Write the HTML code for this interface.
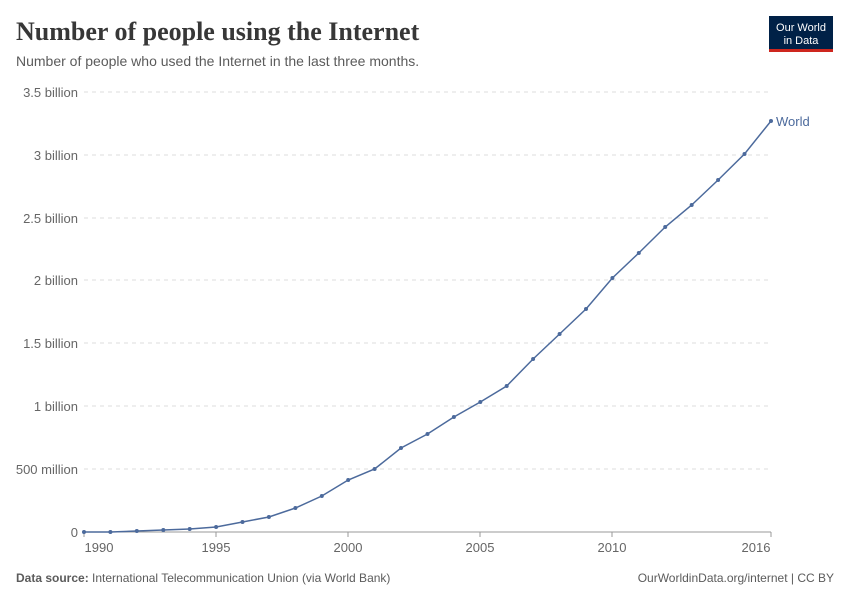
<!DOCTYPE html><html><head><style>
body{margin:0;width:850px;height:600px;background:#fff;font-family:"Liberation Sans",sans-serif;overflow:hidden}
</style></head><body>
<svg width="850" height="600" xmlns="http://www.w3.org/2000/svg" font-family="Liberation Sans, sans-serif">
<text x="16" y="40" font-family="Liberation Serif, serif" font-size="26" font-weight="bold" fill="#373737">Number of people using the Internet</text>
<text x="16" y="66" font-size="14" fill="#5b5b5b">Number of people who used the Internet in the last three months.</text>
<rect x="769" y="16" width="64" height="33" fill="#002147"/>
<rect x="769" y="49" width="64" height="3" fill="#ce261e"/>
<text x="801" y="31" font-size="11" fill="#fff" text-anchor="middle">Our World</text>
<text x="801" y="44" font-size="11" fill="#fff" text-anchor="middle">in Data</text>
<g stroke="#ddd" stroke-dasharray="4,4">
<line x1="84" x2="771" y1="92" y2="92"/><line x1="84" x2="771" y1="155" y2="155"/><line x1="84" x2="771" y1="218" y2="218"/><line x1="84" x2="771" y1="280" y2="280"/><line x1="84" x2="771" y1="343" y2="343"/><line x1="84" x2="771" y1="406" y2="406"/><line x1="84" x2="771" y1="469" y2="469"/>
</g>
<line x1="84" x2="771" y1="532" y2="532" stroke="#999"/>
<g font-size="13" fill="#666" text-anchor="end">
<text x="78" y="97">3.5 billion</text><text x="78" y="160">3 billion</text><text x="78" y="223">2.5 billion</text><text x="78" y="285">2 billion</text><text x="78" y="348">1.5 billion</text><text x="78" y="411">1 billion</text><text x="78" y="474">500 million</text><text x="78" y="537">0</text>
</g>
<g stroke="#999"><line x1="84" x2="84" y1="532" y2="537"/><line x1="216" x2="216" y1="532" y2="537"/><line x1="348" x2="348" y1="532" y2="537"/><line x1="480" x2="480" y1="532" y2="537"/><line x1="612" x2="612" y1="532" y2="537"/><line x1="771" x2="771" y1="532" y2="537"/></g>
<g font-size="13" fill="#666" text-anchor="middle">
<text x="99" y="552">1990</text><text x="216" y="552">1995</text><text x="348" y="552">2000</text><text x="480" y="552">2005</text><text x="612" y="552">2010</text><text x="756" y="552">2016</text>
</g>
<polyline fill="none" stroke="#4c6a9c" stroke-width="1.5" points="84,532 110.4,532 136.8,531 163.3,530 189.7,529 216.1,527 242.5,522 268.9,517 295.4,508 321.8,496 348.2,480 374.6,469 401,448 427.5,434 453.9,417 480.3,402 506.7,386 533.1,359 559.6,334 586,309 612.4,278 638.8,253 665.2,227 691.7,205 718.1,180 744.5,154 771,121"/>
<g fill="#4c6a9c">
<circle cx="84" cy="532" r="2"/><circle cx="110.4" cy="532" r="2"/><circle cx="136.8" cy="531" r="2"/><circle cx="163.3" cy="530" r="2"/><circle cx="189.7" cy="529" r="2"/><circle cx="216.1" cy="527" r="2"/><circle cx="242.5" cy="522" r="2"/><circle cx="268.9" cy="517" r="2"/><circle cx="295.4" cy="508" r="2"/><circle cx="321.8" cy="496" r="2"/><circle cx="348.2" cy="480" r="2"/><circle cx="374.6" cy="469" r="2"/><circle cx="401" cy="448" r="2"/><circle cx="427.5" cy="434" r="2"/><circle cx="453.9" cy="417" r="2"/><circle cx="480.3" cy="402" r="2"/><circle cx="506.7" cy="386" r="2"/><circle cx="533.1" cy="359" r="2"/><circle cx="559.6" cy="334" r="2"/><circle cx="586" cy="309" r="2"/><circle cx="612.4" cy="278" r="2"/><circle cx="638.8" cy="253" r="2"/><circle cx="665.2" cy="227" r="2"/><circle cx="691.7" cy="205" r="2"/><circle cx="718.1" cy="180" r="2"/><circle cx="744.5" cy="154" r="2"/><circle cx="771" cy="121" r="2"/>
</g>
<text x="776" y="126" font-size="13" fill="#4c6a9c">World</text>
<text x="16" y="582" font-size="12" fill="#5b5b5b"><tspan font-weight="bold">Data source:</tspan> International Telecommunication Union (via World Bank)</text>
<text x="834" y="582" font-size="12" fill="#5b5b5b" text-anchor="end">OurWorldinData.org/internet | CC BY</text>
</svg>
</body></html>
